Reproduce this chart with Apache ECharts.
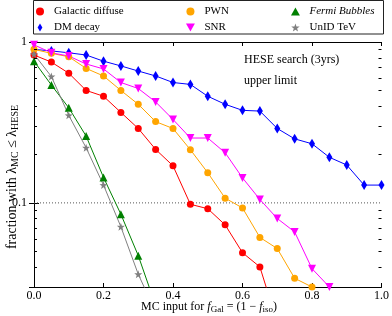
<!DOCTYPE html>
<html><head><meta charset="utf-8">
<script src="https://cdn.jsdelivr.net/npm/echarts@6/dist/echarts.min.js"></script>
<style>html,body{margin:0;padding:0;background:#fff}#c{width:392px;height:316px}</style>
</head><body><div id="c"></div>
<script>
const xs = [0, 0.05, 0.1, 0.15, 0.2, 0.25, 0.3, 0.35, 0.4, 0.45, 0.5, 0.55, 0.6, 0.65, 0.7, 0.75, 0.8, 0.85, 0.9, 0.95, 1.0];
const galactic = [0.83, 0.75, 0.64, 0.50, 0.46, 0.365, 0.29, 0.215, 0.17, 0.098, 0.092, 0.073, 0.049, 0.040, 0.018];
const dmDecay = [0.90, 0.88, 0.857, 0.83, 0.76, 0.71, 0.66, 0.615, 0.56, 0.545, 0.46, 0.41, 0.376, 0.372, 0.29, 0.25, 0.233, 0.192, 0.172, 0.129, 0.129];
const pwn = [0.90, 0.85, 0.81, 0.685, 0.615, 0.50, 0.41, 0.32, 0.29, 0.214, 0.154, 0.107, 0.093, 0.061, 0.052, 0.034, 0.030, 0.02];
const snr = [0.96, 0.857, 0.818, 0.73, 0.68, 0.56, 0.514, 0.424, 0.33, 0.253, 0.253, 0.205, 0.143, 0.105, 0.080, 0.066, 0.039, 0.030, 0.02];
const fermi = [0.76, 0.54, 0.39, 0.26, 0.144, 0.085, 0.047, 0.023];
const unid = [0.84, 0.61, 0.35, 0.22, 0.129, 0.071, 0.036, 0.021];
const xTicks = [0, 0.2, 0.4, 0.6, 0.8, 1.0];
const yMinorTicks = [0.04, 0.05, 0.06, 0.07, 0.08, 0.09, 0.2, 0.3, 0.4, 0.5, 0.6, 0.7, 0.8, 0.9];
const refLevel = 0.1;

const FONT = 'Liberation Serif';
const invTri = 'path://M0,0L10,0L5,9Z';
const upTri = 'path://M5,0L10,9L0,9Z';
const star = 'path://M5,0L6.18,3.38L9.76,3.45L6.9,5.62L7.94,9.05L5,7L2.06,9.05L3.1,5.62L0.24,3.45L3.82,3.38Z';
const thinDia = 'path://M3,0L6,5L3,10L0,5Z';

function pairs(vals) { return vals.map((v, i) => [xs[i], v]); }
function mk(name, vals, color, symbol, size) {
  return { name, type: 'line', data: pairs(vals), xAxisIndex: 0, yAxisIndex: 0,
    symbol, symbolSize: size, showSymbol: true, clip: true, animation: false,
    lineStyle: { color, width: 1 }, itemStyle: { color }, z: 3 };
}
const chart = echarts.init(document.getElementById('c'), null, { renderer: 'canvas' });
const legendCommon = {
  orient: 'vertical', itemWidth: 18, itemHeight: 8, itemGap: 5, padding: 0, symbolKeepAspect: true,
  textStyle: { fontFamily: FONT, fontSize: 11, color: '#000',
    rich: { i: { fontStyle: 'italic', fontFamily: FONT, fontSize: 11 } } },
  formatter: n => n === 'Fermi Bubbles' ? '{i|Fermi Bubbles}' : n,
  selectedMode: false
};
const axisCommonX = { type: 'value', min: 0, max: 1, interval: 0.2,
  axisLine: { lineStyle: { color: '#000', width: 1 } },
  axisTick: { inside: true, length: 4, lineStyle: { color: '#000' } },
  splitLine: { show: false } };
const axisCommonY = { type: 'log', logBase: 10, min: 0.03, max: 1,
  axisLine: { show: true, lineStyle: { color: '#000', width: 1 } },
  axisTick: { inside: true, length: 5, lineStyle: { color: '#000' } },
  splitLine: { show: false }, minorTick: { show: false } };

chart.setOption({
  animation: false,
  grid: { left: 34, right: 8, top: 42, bottom: 29, containLabel: false },
  xAxis: [
    Object.assign({}, axisCommonX, { position: 'bottom',
      axisLabel: { fontFamily: FONT, fontSize: 12, color: '#000', margin: 3, formatter: v => v.toFixed(1) } }),
    Object.assign({}, axisCommonX, { position: 'top', axisLabel: { show: false } })
  ],
  yAxis: [
    Object.assign({}, axisCommonY, { position: 'left',
      axisLabel: { fontFamily: FONT, fontSize: 12, color: '#000', margin: 7,
        formatter: v => Math.abs(v - 1) < 1e-9 ? '1' : (Math.abs(v - 0.1) < 1e-9 ? '0.1' : '') } }),
    Object.assign({}, axisCommonY, { position: 'right', axisLabel: { show: false } })
  ],
  legend: [
    Object.assign({}, legendCommon, { left: 36, top: 6,
      data: [{ name: 'Galactic diffuse', icon: 'circle' }, { name: 'DM decay', icon: thinDia }] }),
    Object.assign({}, legendCommon, { left: 186, top: 6,
      data: [{ name: 'PWN', icon: 'circle' }, { name: 'SNR', icon: invTri }] }),
    Object.assign({}, legendCommon, { left: 291, top: 6,
      data: [{ name: 'Fermi Bubbles', icon: upTri }, { name: 'UnID TeV', icon: star }] })
  ],
  graphic: [
    { type: 'rect', shape: { x: 33.5, y: 0.5, width: 350, height: 33.5 },
      style: { stroke: '#222', fill: 'none', lineWidth: 1 }, z: 10 },
    { type: 'text', left: 244, top: 54, style: { text: 'HESE search (3yrs)', fontFamily: FONT, fontSize: 12, fill: '#000' } },
    { type: 'text', left: 244, top: 75, style: { text: 'upper limit', fontFamily: FONT, fontSize: 12, fill: '#000' } },
    { type: 'text', x: 209, y: 307,
      style: { text: '{n|MC input for }{i|f}{s|Gal}{n| = (1 − }{i|f}{s|iso}{n|)}',
        align: 'center', verticalAlign: 'middle', fontFamily: FONT, fontSize: 12, fill: '#000',
        rich: { n: { fontFamily: FONT, fontSize: 12, lineHeight: 14 },
                i: { fontFamily: FONT, fontSize: 12, fontStyle: 'italic', lineHeight: 14 },
                s: { fontFamily: FONT, fontSize: 9, lineHeight: 10, verticalAlign: 'bottom' } } } },
    { type: 'text', x: 12, y: 177, rotation: Math.PI / 2,
      style: { text: '{n|fraction with }{n|λ}{s|MC}{n| ≤ λ}{s|HESE}',
        align: 'center', verticalAlign: 'middle', fontFamily: FONT, fontSize: 14, fill: '#000',
        rich: { n: { fontFamily: FONT, fontSize: 14, lineHeight: 16 },
                s: { fontFamily: FONT, fontSize: 10, lineHeight: 11, verticalAlign: 'bottom' } } } }
  ],
  series: [
    { name: 'ref', type: 'line', data: [[0, refLevel], [1, refLevel]], symbol: 'none', silent: true,
      lineStyle: { color: '#555', width: 1, type: [1, 2] }, z: 1 },
    { name: 'minorTicks', type: 'custom', silent: true, z: 5,
      data: yMinorTicks.map(v => [0, v]),
      renderItem: function (params, api) {
        const p = api.coord([0, api.value(1)]);
        const cs = params.coordSys;
        const y = Math.round(p[1]) + 0.5;
        return { type: 'group', children: [
          { type: 'line', shape: { x1: cs.x, y1: y, x2: cs.x + 3, y2: y }, style: { stroke: '#000', lineWidth: 1 } },
          { type: 'line', shape: { x1: cs.x + cs.width - 3, y1: y, x2: cs.x + cs.width, y2: y }, style: { stroke: '#000', lineWidth: 1 } }
        ] };
      } },
    mk('Galactic diffuse', galactic, '#ff0000', 'circle', 7),
    mk('DM decay', dmDecay, '#0000ff', 'diamond', [6, 10]),
    mk('PWN', pwn, '#ffa500', 'circle', 7),
    mk('SNR', snr, '#ff00ff', invTri, 8),
    mk('Fermi Bubbles', fermi, '#008000', upTri, 8),
    mk('UnID TeV', unid, '#808080', star, 8)
  ]
});
</script></body></html>
